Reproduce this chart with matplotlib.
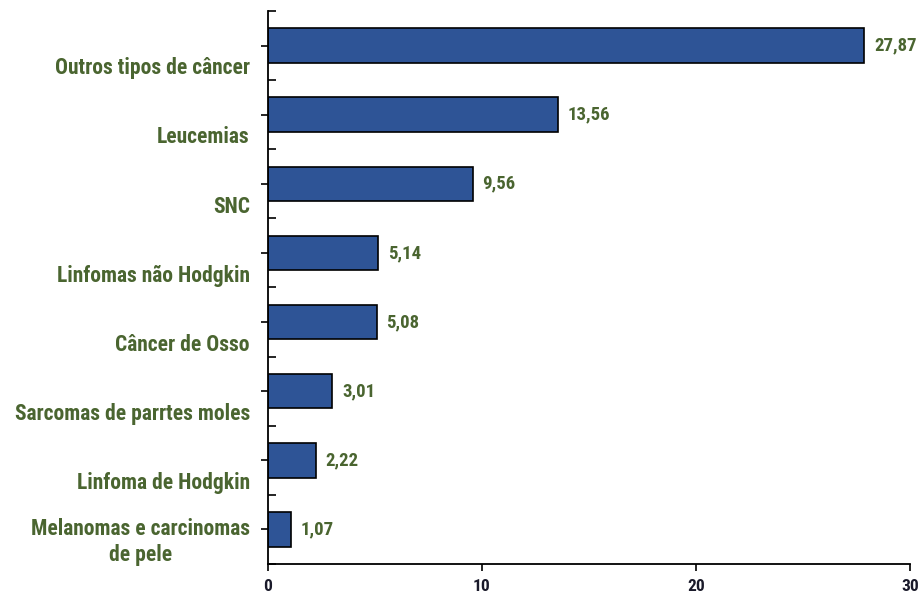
import matplotlib
matplotlib.use("Agg")
from matplotlib import pyplot as plt
from matplotlib import font_manager
from matplotlib.ticker import MultipleLocator, NullFormatter

categories = [
    "Outros tipos de câncer",
    "Leucemias",
    "SNC",
    "Linfomas não Hodgkin",
    "Câncer de Osso",
    "Sarcomas de parrtes moles",
    "Linfoma de Hodgkin",
    "Melanomas e carcinomas\nde pele",
]
values = [27.87, 13.56, 9.56, 5.14, 5.08, 3.01, 2.22, 1.07]
value_labels = ["27,87", "13,56", "9,56", "5,14", "5,08", "3,01", "2,22", "1,07"]
x_ticks = [0, 10, 20, 30]

# narrow font if there is one, otherwise plain Liberation Sans a bit smaller
installed = {f.name for f in font_manager.fontManager.ttflist}
narrow = [f for f in ["Liberation Sans Narrow", "Roboto Condensed", "Arial Narrow"] if f in installed]
if narrow:
    plt.rcParams["font.family"] = [narrow[0], "DejaVu Sans"]
    cat_size, val_size, tick_size = 15.5, 13.5, 12.5
else:
    plt.rcParams["font.family"] = ["Liberation Sans", "DejaVu Sans"]
    cat_size, val_size, tick_size = 12, 11, 10.5

label_color = "#4a6530"
bar_color = "#2e5496"

fig = plt.figure(figsize=(9.21, 5.94), dpi=100)
ax = fig.add_axes([0.291, 0.0505, 0.697, 0.931])

n = len(categories)
pos = [n - 1 - i for i in range(n)]
ax.barh(pos, values, height=0.5, color=bar_color, edgecolor="black", linewidth=1.2)

ax.set_xlim(0, 30)
ax.set_ylim(-0.5, n - 0.5)

for p, v, lab in zip(pos, values, value_labels):
    ax.text(v + 0.45, p, lab, va="center", ha="left", fontsize=val_size,
            fontweight="bold", color=label_color)

for p, cat in zip(pos, categories):
    lines = cat.count("\n") + 1
    offset = -0.33 + 0.15 * (lines - 1)
    ax.text(-0.85, p + offset, cat, va="center", ha="right", fontsize=cat_size,
            fontweight="bold", color=label_color, multialignment="center",
            linespacing=1.25)

ax.set_xticks(x_ticks)
ax.set_xticklabels([str(t) for t in x_ticks], fontsize=tick_size,
                   fontweight="bold", color="#1a1a2a")
ax.tick_params(axis="x", direction="out", length=5, width=1.2, pad=6)

ax.yaxis.set_major_locator(MultipleLocator(1.0, offset=0.5))
ax.yaxis.set_minor_locator(MultipleLocator(1.0))
ax.yaxis.set_major_formatter(NullFormatter())
ax.tick_params(axis="y", which="major", direction="in", length=6, width=1.2)
ax.tick_params(axis="y", which="minor", direction="out", length=5, width=1.2)

for s in ["top", "right"]:
    ax.spines[s].set_visible(False)
for s in ["left", "bottom"]:
    ax.spines[s].set_linewidth(1.3)

fig.savefig("out.png", dpi=100)
